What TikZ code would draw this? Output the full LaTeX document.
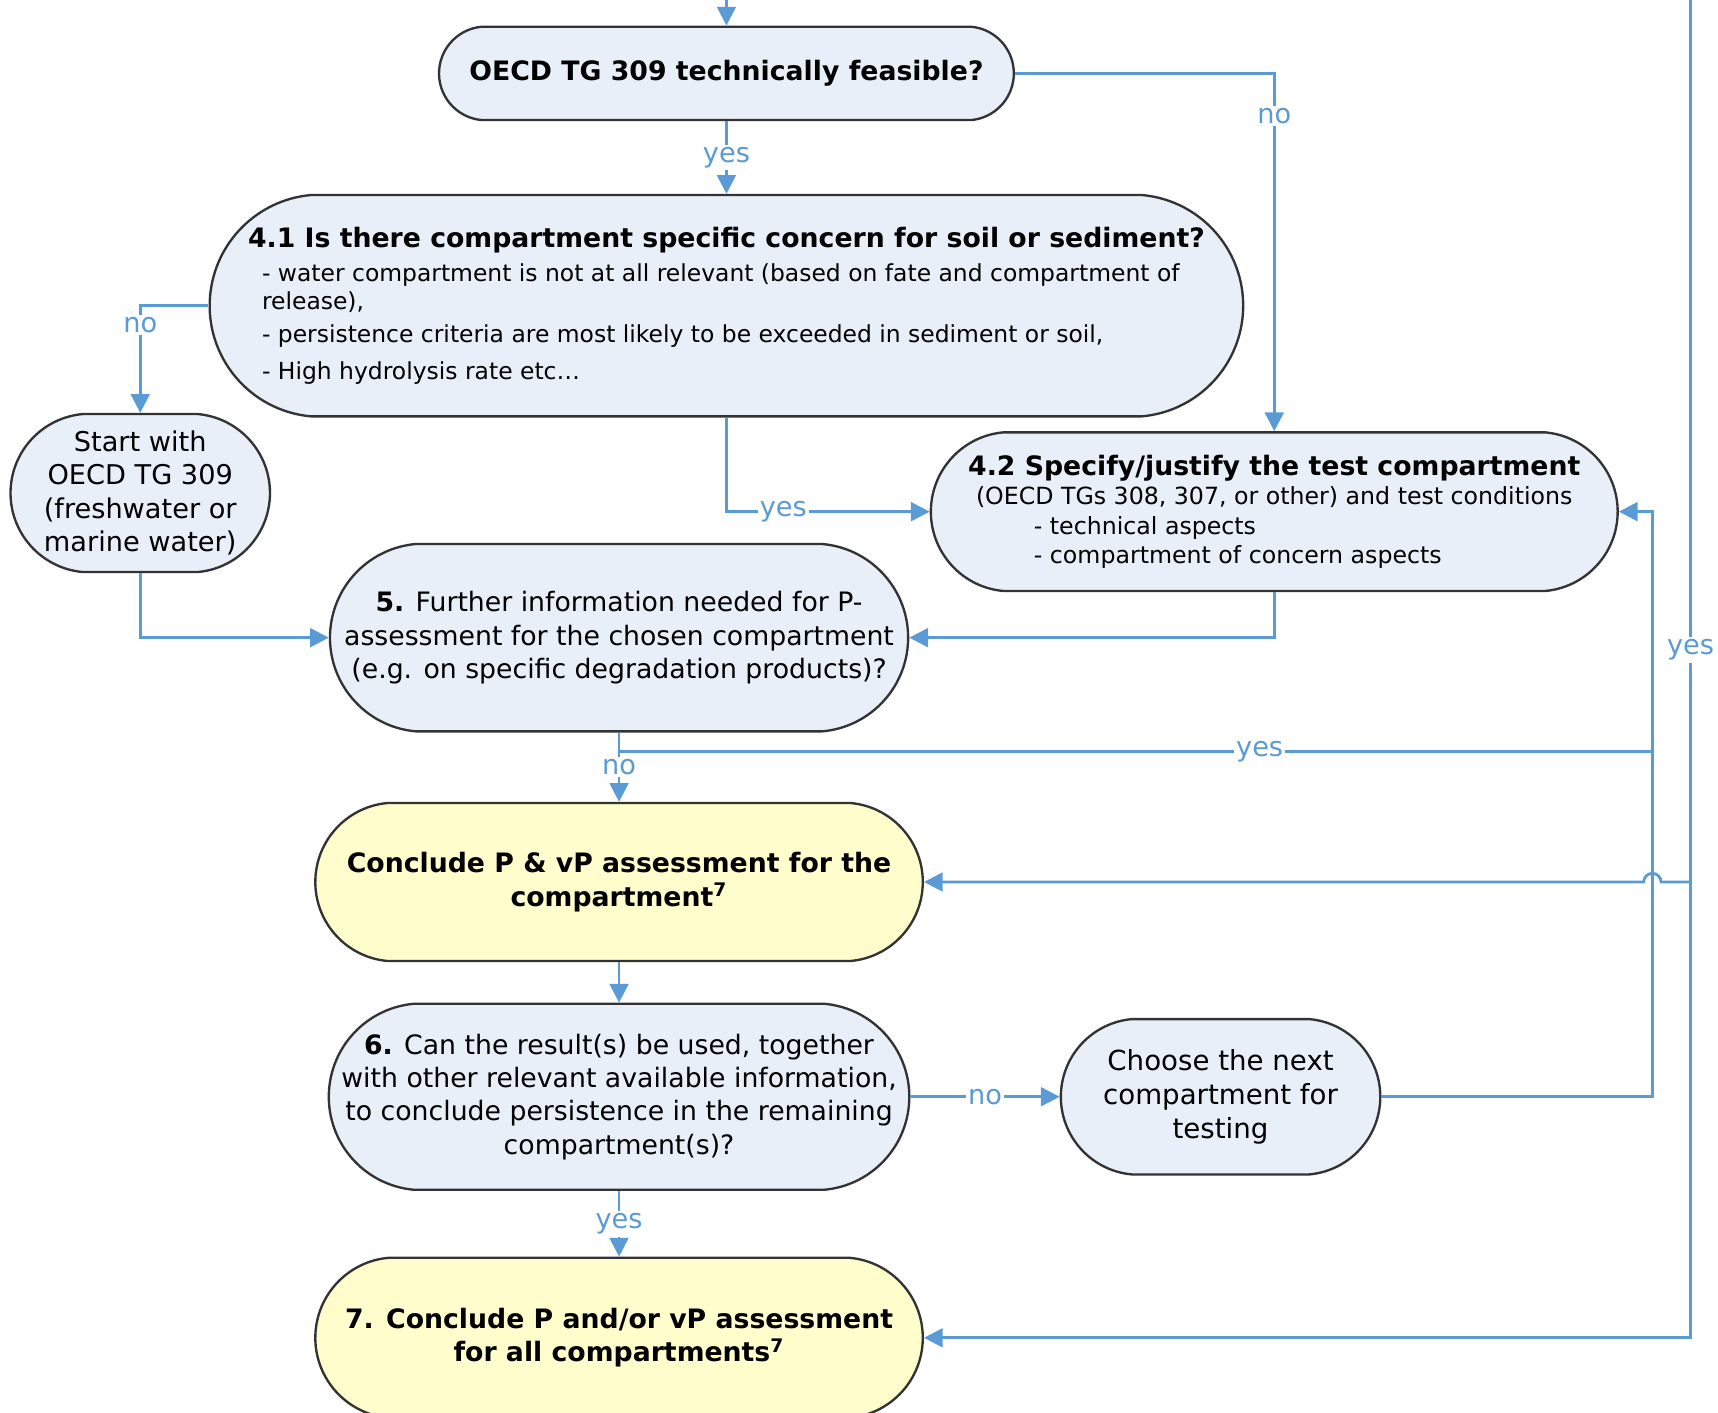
\documentclass[tikz,border=0pt]{standalone}
\usepackage{fontspec}
\setmainfont{DejaVu Sans}
\usetikzlibrary{arrows.meta}
\usetikzlibrary{shapes.misc}
\definecolor{flowblue}{RGB}{91,155,213}
\definecolor{boxblue}{RGB}{233,239,249}
\definecolor{boxyellow}{RGB}{255,253,204}

\begin{document}
\begin{tikzpicture}[x=0.01643cm,y=-0.01643cm,
    box/.style = {draw=black!80, line width=1pt, rounded rectangle, rounded rectangle arc length=170, fill=boxblue, inner xsep=-5pt, inner ysep=2pt, align=center, font=\fontsize{11.4}{14.2}\selectfont},
    endbox/.style = {box, fill=boxyellow, font=\fontsize{11.4}{14.2}\selectfont\bfseries},
    flow/.style = {draw=flowblue, line width=1.2pt, -{Triangle[length=8pt,width=8pt]}},
    link/.style = {draw=flowblue, line width=1.2pt},
    lbl/.style = {fill=white, text=flowblue, inner sep=1pt, font=\fontsize{11.6}{13}\selectfont}]
    \useasboundingbox (0,0) rectangle (1568,1289);

    \node[box, minimum width=8.27cm, minimum height=1.40cm, font=\fontsize{11.4}{14.2}\selectfont\bfseries] (tg309) at (663,67) {OECD TG 309 technically feasible?};
    \node[box, minimum width=15.15cm, minimum height=3.32cm, align=left, font=\fontsize{10}{12}\selectfont] (concern) at (663,279)
        {{\fontsize{11.4}{14}\selectfont\bfseries 4.1 Is there compartment specific concern for soil or sediment?}\\[2.5pt]
         \hspace*{0.21cm}- water compartment is not at all relevant (based on fate and compartment of\\
         \hspace*{0.21cm}release),\\[2pt]
         \hspace*{0.21cm}- persistence criteria are most likely to be exceeded in sediment or soil,\\[3.5pt]
         \hspace*{0.21cm}- High hydrolysis rate etc\dots};
    \node[box, minimum width=3.54cm, minimum height=2.37cm, font=\fontsize{11.6}{14.2}\selectfont] (start) at (128,450) {Start with\\OECD TG 309\\(freshwater or\\marine water)};
    \node[box, minimum width=9.95cm, minimum height=2.38cm, font=\fontsize{10.1}{12.5}\selectfont] (spec) at (1163,467)
        {{\fontsize{11.4}{14}\selectfont\bfseries 4.2 Specify/justify the test compartment}\\
         (OECD TGs 308, 307, or other) and test conditions\\
         \makebox[8.95cm][l]{\hspace*{0.87cm}- technical aspects}\\
         \makebox[8.95cm][l]{\hspace*{0.87cm}- compartment of concern aspects}};
    \node[box, minimum width=8.32cm, minimum height=2.81cm] (further) at (565,582) {\textbf{5.} Further information needed for P-\\assessment for the chosen compartment\\(e.g. on specific degradation products)?};
    \node[endbox, minimum width=8.76cm, minimum height=2.37cm] (concl) at (565,805) {Conclude P \& vP assessment for the\\compartment\textsuperscript{7}};
    \node[box, minimum width=8.29cm, minimum height=2.79cm] (result) at (565,1001) {\textbf{6.} Can the result(s) be used, together\\with other relevant available information,\\to conclude persistence in the remaining\\compartment(s)?};
    \node[box, minimum width=4.44cm, minimum height=2.33cm, font=\fontsize{11.8}{14.4}\selectfont] (choose) at (1114,1001) {Choose the next\\compartment for\\testing};
    \node[endbox, minimum width=8.76cm, minimum height=2.40cm] (allc) at (565,1221) {7. Conclude P and/or vP assessment\\for all compartments\textsuperscript{7}};

    \coordinate (topin) at (663,-10);
    \coordinate (topR) at (1543,-10);
    \coordinate (loopR) at (1508,467);
    \coordinate (yesR) at (1508,686);
    \coordinate (branchR) at (1543,805);
    \coordinate (jumpA) at (1516,805);

    \draw[flow] (topin) -- (tg309.north);
    \draw[flow] (tg309.east) -| node[lbl, pos=0.56] {no} (spec.north);
    \draw[flow] (tg309.south) -- node[lbl] {yes} (concern.north);
    \draw[flow] (concern.west) -| node[lbl, pos=0.59] {no} (start.north);
    \draw[flow] (concern.south) |- node[lbl, pos=0.64] {yes} (spec.west);
    \draw[flow] (start.south) |- (further.west);
    \draw[flow] (spec.south) |- (further.east);
    \draw[link] (further.south) |- node[lbl, pos=0.81] {yes} (yesR);
    \draw[flow] (further.south) -- node[lbl] {no} (concl.north);
    \draw[flow] (choose.east) -| (loopR) -- (spec.east);
    \draw[flow] (concl.south) -- (result.north);
    \draw[flow] (result.east) -- node[lbl] {no} (choose.west);
    \draw[flow] (result.south) -- node[lbl] {yes} (allc.north);
    \draw[flow] (topR) |- node[lbl, pos=0.245] {yes} (allc.east);
    \draw[flow] (branchR) -- (jumpA) arc[start angle=0, end angle=180, radius=0.13cm] -- (concl.east);
\end{tikzpicture}
\end{document}
